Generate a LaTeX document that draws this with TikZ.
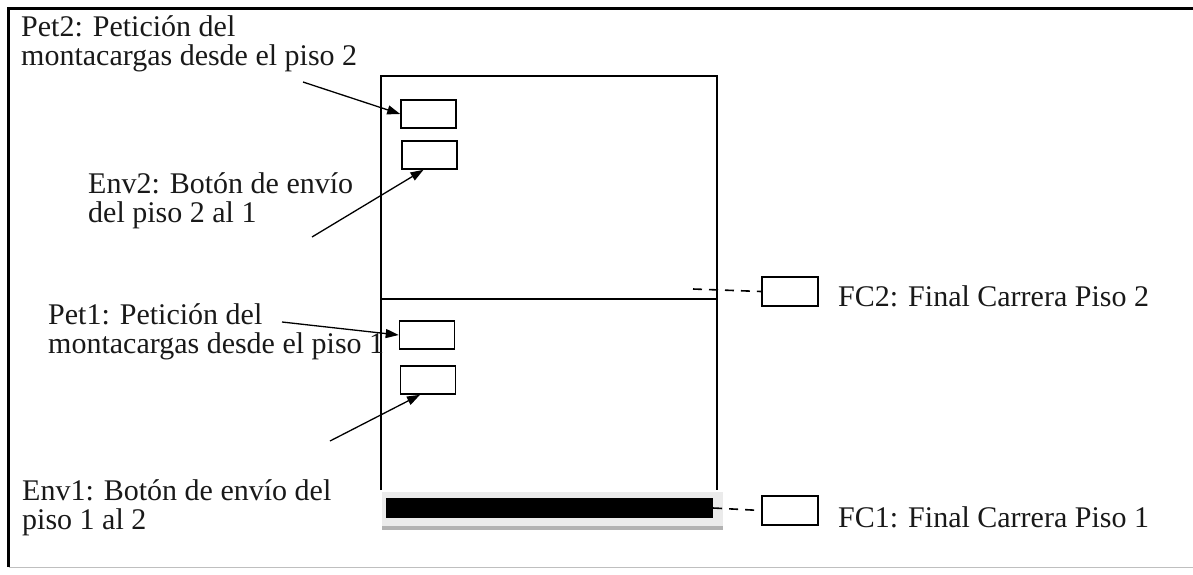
\documentclass[tikz,border=0pt]{standalone}
\usepackage{fontspec}
\setmainfont{Liberation Serif}
\usetikzlibrary{arrows.meta}

\begin{document}
\begin{tikzpicture}[
      x=1pt, y=-1pt,
      button/.style={draw=black, line width=1.6pt, minimum width=55pt, minimum height=28pt, inner sep=0pt},
      txt/.style={align=left, anchor=base west, inner sep=0pt, text=black!90,
        font=\fontsize{30}{29}\selectfont},
      pointer/.style={-{Triangle[length=13pt,width=9pt]}, line width=1.3pt},
      sensor/.style={line width=1.6pt, dash pattern=on 9pt off 7pt},
      wall/.style={line width=1.6pt}
    ]
    \useasboundingbox (0,0) rectangle (1193,574);

    % frame of the page
    \draw[line width=3pt] (8.5,567) -- (8.5,8.5) -- (1193,8.5);
    \draw[black!25, line width=1pt] (8.5,567.5) -- (1193,567.5);

    % shaft of the lift
    \draw[wall] (381,490) -- (381,76) -- (717,76) -- (717,490);
    \draw[wall] (381,299) -- (717,299);
    \coordinate (wall2) at (693,289);

    % the car at floor 1
    \fill[black!8] (382,492) rectangle (723,530);
    \fill[black!30] (382,526) rectangle (723,530);
    \node[fill=black, minimum width=327pt, minimum height=20pt, inner sep=0pt] (bar) at (549.5,508) {};

    % push buttons
    \node[button] (pet2) at (428.5,114) {};
    \node[button] (env2) at (429.5,155) {};
    \node[button] (pet1) at (427,335) {};
    \node[button] (env1) at (428,380) {};

    % limit switches
    \node[button, minimum width=56pt, minimum height=29pt] (fc2) at (790,291.5) {};
    \node[button, minimum width=56pt, minimum height=29pt] (fc1) at (790,510.5) {};

    % texts (base = last line)
    \node[txt] (tpet2) at (21,65) {Pet2: Petición del\\montacargas desde el piso 2};
    \node[txt] (tenv2) at (88,222) {Env2: Botón de envío\\del piso 2 al 1};
    \node[txt] (tpet1) at (48,353) {Pet1: Petición del\\montacargas desde el piso 1};
    \node[txt] (tenv1) at (22,529) {Env1: Botón de envío del\\piso 1 al 2};
    \node[txt] (tfc2) at (838,306) {FC2: Final Carrera Piso 2};
    \node[txt] (tfc1) at (838,527) {FC1: Final Carrera Piso 1};

    % arrows to the buttons
    \coordinate (apet2) at (303,82);
    \coordinate (aenv2) at (312,237);
    \coordinate (apet1) at (282,322);
    \coordinate (aenv1) at (330,441);
    \draw[pointer] (apet2) -- (pet2.west);
    \draw[pointer] (aenv2) -- ([xshift=-6pt]env2.south);
    \draw[pointer] (apet1) -- (pet1.west);
    \draw[pointer] (aenv1) -- ([xshift=-8pt]env1.south);

    % dashed links to the switches
    \draw[sensor] (wall2) -- (fc2.west);
    \draw[sensor] (bar.east) -- (fc1.west);
    \draw[line width=1.3pt] ([yshift=-5pt]fc2.west) -- ([yshift=5pt]fc2.west);
    \draw[line width=1.3pt] ([yshift=-5pt]fc1.west) -- ([yshift=5pt]fc1.west);
  \end{tikzpicture}
\end{document}
